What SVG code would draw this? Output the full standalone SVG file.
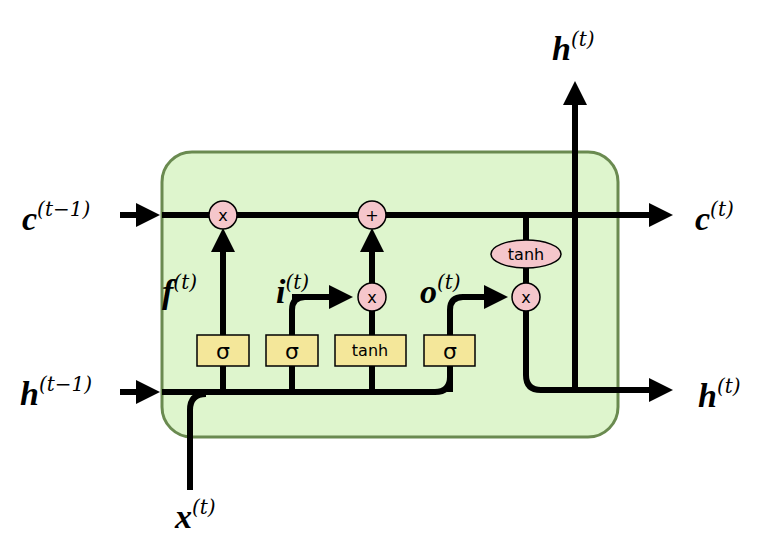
<svg xmlns="http://www.w3.org/2000/svg" width="774" height="542" viewBox="0 0 774 542">
<defs>
<marker id="ah" markerWidth="4" markerHeight="4" refX="1" refY="2" orient="auto" markerUnits="strokeWidth"><path d="M0,0 L4,2 L0,4 z" fill="#000"/></marker>
<style>
.w{fill:none;stroke:#000;stroke-width:6}
.a{marker-end:url(#ah)}
.op{fill:#f5c6cb;stroke:#000;stroke-width:1.5}
.gate{fill:#f4e79a;stroke:#000;stroke-width:1.5}
.t{font-family:"DejaVu Sans",sans-serif;font-size:16px;text-anchor:middle}
.s{font-family:"DejaVu Sans",sans-serif;font-size:22px;text-anchor:middle}
.lb{font-family:"Liberation Serif",serif;font-weight:bold;font-style:italic;font-size:34px}
.sup{font-family:"DejaVu Serif",serif;font-style:italic;font-size:20px}
</style>
</defs>
<rect id="cell" x="162" y="152" width="456" height="285" rx="30" fill="#def5cd" stroke="#6a8a50" stroke-width="3"/>
<g id="connectors">
<path class="w a" d="M120,215 H142"/>
<path class="w a" d="M162,215 H655"/>
<path class="w a" d="M120,392 H142"/>
<path class="w" d="M162,392 H435 Q450,392 450,377 V366"/>
<path class="w" d="M190,490 V410 Q190,394 206,394"/>
<path class="w a" d="M223,392 V246"/>
<path class="w" d="M292,392 V366 M292,335 V310 Q292,297 305,297 H338"/>
<path class="w a" d="M292,297 H335"/>
<path class="w" d="M372,392 V366 M372,335 V311"/>
<path class="w a" d="M372,283 V246"/>
<path class="w" d="M450,335 V310 Q450,297 463,297 H490"/>
<path class="w a" d="M480,297 H490"/>
<path class="w" d="M526,215 V240 M526,268 V283 M526,311 V375 Q526,390 541,390 H580"/>
<path class="w a" d="M575,390 H655"/>
<path class="w a" d="M575,390 V99"/>
<path class="w" d="M223,366 V335 M450,392 V366"/>
</g>
<g id="f-mul"><circle class="op" cx="223" cy="215" r="14"/><text class="t" x="223" y="221">x</text></g>
<g id="c-add"><circle class="op" cx="372" cy="215" r="14"/><text class="t" x="372" y="221">+</text></g>
<g id="i-mul"><circle class="op" cx="372" cy="297" r="14"/><text class="t" x="372" y="303">x</text></g>
<g id="o-mul"><circle class="op" cx="526" cy="297" r="14"/><text class="t" x="526" y="303">x</text></g>
<g id="c-tanh"><ellipse class="op" cx="526" cy="254" rx="35" ry="14"/><text class="t" x="526" y="260">tanh</text></g>
<g id="f-gate"><rect class="gate" x="197" y="335" width="52" height="31"/><text class="s" x="223" y="359">σ</text></g>
<g id="i-gate"><rect class="gate" x="266" y="335" width="52" height="31"/><text class="s" x="292" y="359">σ</text></g>
<g id="g-gate"><rect class="gate" x="335" y="335" width="71" height="31"/><text class="t" x="370" y="356">tanh</text></g>
<g id="o-gate"><rect class="gate" x="424" y="335" width="51" height="31"/><text class="s" x="450" y="359">σ</text></g>
<g id="labels">
<text x="22" y="230"><tspan class="lb">c</tspan><tspan class="sup" dy="-14">(t−1)</tspan></text>
<text x="20" y="405"><tspan class="lb">h</tspan><tspan class="sup" dy="-14">(t−1)</tspan></text>
<text x="695" y="230"><tspan class="lb">c</tspan><tspan class="sup" dy="-14">(t)</tspan></text>
<text x="698" y="407"><tspan class="lb">h</tspan><tspan class="sup" dy="-14">(t)</tspan></text>
<text x="552" y="60"><tspan class="lb">h</tspan><tspan class="sup" dy="-14">(t)</tspan></text>
<text x="175" y="528"><tspan class="lb">x</tspan><tspan class="sup" dy="-14">(t)</tspan></text>
<text x="162" y="303"><tspan class="lb">f</tspan><tspan class="sup" dy="-14">(t)</tspan></text>
<text x="276" y="303"><tspan class="lb">i</tspan><tspan class="sup" dy="-14">(t)</tspan></text>
<text x="420" y="303"><tspan class="lb">o</tspan><tspan class="sup" dy="-14">(t)</tspan></text>
</g>
</svg>
